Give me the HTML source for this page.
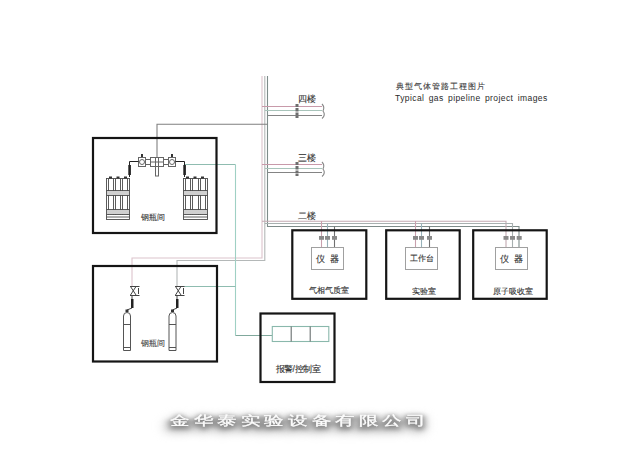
<!DOCTYPE html>
<html><head><meta charset="utf-8">
<style>
html,body{margin:0;padding:0;background:#fff;}
body{width:640px;height:458px;overflow:hidden;position:relative;font-family:"Liberation Sans",sans-serif;}
svg{position:absolute;left:0;top:0;}
.t{position:absolute;white-space:nowrap;line-height:1;color:#333;}
.m{-webkit-text-stroke:0.12px #333;}
</style></head><body>
<svg width="640" height="458" viewBox="0 0 640 458">
<g fill="none" stroke-width="1.1">
  <!-- main verticals -->
  <path d="M262 76 V258 H132 V286" stroke="#dcc4cc"/>
  <path d="M264.8 76 V260.5 H177 V286" stroke="#b4b8b8"/>
  <path d="M267.5 76 V226.5 H519 V247" stroke="#7e8c8a"/>
  <!-- 二楼 other lines -->
  <path d="M262 221.3 H506 V247" stroke="#c4aab2"/>
  <path d="M264.8 223.5 H512.5 V247" stroke="#a8b0b0"/>
  <!-- room drops -->
  <path d="M321.5 221 V247" stroke="#c9a0ae"/>
  <path d="M327.5 223.5 V247" stroke="#98b2ba"/>
  <path d="M334.5 226.5 V247" stroke="#707070"/>
  <path d="M415.5 221 V247" stroke="#c9a0ae"/>
  <path d="M421.5 223.5 V247" stroke="#98b2ba"/>
  <path d="M429.5 226.5 V247" stroke="#707070"/>
  <!-- 四楼 -->
  <path d="M262 106.5 H322" stroke="#c89aaa"/>
  <path d="M265 110.5 H322" stroke="#a8c4ba"/>
  <path d="M267.5 115.5 H322" stroke="#848484"/>
  <!-- 三楼 -->
  <path d="M262 164.5 H322" stroke="#c89aaa"/>
  <path d="M265 168.5 H322" stroke="#a8c4ba"/>
  <path d="M267.5 172.5 H322" stroke="#848484"/>
  <!-- break symbols -->
  <path d="M322 104 Q325 107 323 111 Q326 115 322 118.5" stroke="#888"/>
  <path d="M322 162 Q325 165 323 169 Q326 173 322 176.5" stroke="#888"/>
  <!-- gray line from manifold -->
  <path d="M157 157 V124.3 H267.5" stroke="#808080"/>
  <!-- green lines -->
  <path d="M185 164.5 H235.5" stroke="#8fbcb0"/>
  <path d="M235.5 164.5 V335.5" stroke="#9fd0c4"/>
  <path d="M235.5 335.5 H272" stroke="#80a89c"/>
  <path d="M183 286.5 H235.5" stroke="#8fbcb0"/>
</g>
<!-- floor valve blocks -->
<g fill="#6e6e6e">
  <rect x="295.5" y="104" width="3" height="3"/><rect x="295.5" y="108" width="3" height="3.5"/><rect x="295.5" y="112.5" width="3" height="2.5"/><rect x="295.5" y="115.5" width="3" height="2.5"/>
  <rect x="295.5" y="162" width="3" height="3"/><rect x="295.5" y="166" width="3" height="3.5"/><rect x="295.5" y="170.5" width="3" height="2.5"/><rect x="295.5" y="173.5" width="3" height="2.5"/>
</g>
<!-- boxes -->
<g fill="none" stroke="#151515" stroke-width="2.2">
  <rect x="93" y="138" width="123.5" height="95"/>
  <rect x="93" y="266" width="124" height="95.5"/>
  <rect x="292.3" y="230.3" width="74" height="68.5"/>
  <rect x="386.2" y="230.3" width="73.5" height="68.5"/>
  <rect x="473.2" y="230.3" width="73.5" height="68.5"/>
  <rect x="260.5" y="313.5" width="74" height="68.5"/>
</g>
<g fill="none" stroke="#a0a0a0" stroke-width="1">
  <rect x="311.5" y="247.5" width="32" height="22"/>
  <rect x="405.5" y="247.5" width="32" height="22"/>
  <rect x="495.5" y="247.5" width="32" height="22"/>
</g>
<!-- alarm panel -->
<g fill="none" stroke-width="1.1">
  <rect x="272.3" y="326.5" width="56.5" height="15" stroke="#8ab8ac"/>
  <path d="M291.2 326.5 V341.5 M310.2 326.5 V341.5" stroke="#6a7070"/>
</g>
<!-- room valves -->
<g fill="#8a8a8a">
  <rect x="319" y="236" width="5" height="3.8"/><rect x="325" y="236" width="5" height="3.8"/><rect x="332" y="236" width="5" height="3.8"/>
  <rect x="413" y="236" width="5" height="3.8"/><rect x="419" y="236" width="5" height="3.8"/><rect x="427" y="236" width="5" height="3.8"/>
  <rect x="503.5" y="236" width="5" height="3.8"/><rect x="510" y="236" width="5" height="3.8"/><rect x="516.7" y="236" width="5" height="3.8"/>
</g>
<!-- box1 manifold -->
<g fill="none" stroke="#666" stroke-width="1">
  <rect x="138.5" y="157.5" width="7" height="9"/>
  <circle cx="142" cy="162" r="2.5"/>
  <rect x="145.5" y="159.5" width="5" height="5"/>
  <rect x="150.5" y="157.5" width="13" height="9"/>
  <path d="M150.5 162 H163.5"/>
  <rect x="163.5" y="159.5" width="5" height="5"/>
  <rect x="168.5" y="157.5" width="7" height="9"/>
  <circle cx="172" cy="162" r="2.5"/>
  <rect x="155.5" y="157.5" width="3" height="18.5"/>
</g>
<g fill="#333">
  <rect x="141" y="154" width="2" height="3"/>
  <rect x="171" y="154" width="2" height="3"/>
</g>
<g fill="none" stroke="#222" stroke-width="1">
  <path d="M138.5 161.5 H129.5 V177"/>
  <path d="M175.5 161.5 H184.5 V177"/>
</g>
<g fill="#222">
  <rect x="128.3" y="165" width="2.6" height="10"/>
  <rect x="183.3" y="165" width="2.6" height="10"/>
</g>
<!-- racks -->
<g fill="none" stroke="#4a4a4a" stroke-width="0.9">
  <rect x="106.5" y="178.5" width="23" height="41"/>
  <path d="M108.5 178.5 V214.5 M113.5 178.5 V214.5 M115.5 178.5 V214.5 M120.5 178.5 V214.5 M122.5 178.5 V214.5 M127.5 178.5 V214.5 M106.5 190.5 H129.5 M106.5 195.5 H129.5 M106.5 209.5 H129.5 M106.5 214.5 H129.5 M106.5 217 H129.5"/>
  <rect x="183.5" y="178.5" width="24" height="41"/>
  <path d="M185.5 178.5 V214.5 M190.5 178.5 V214.5 M192.5 178.5 V214.5 M198.5 178.5 V214.5 M200.5 178.5 V214.5 M205.5 178.5 V214.5 M183.5 190.5 H207.5 M183.5 195.5 H207.5 M183.5 209.5 H207.5 M183.5 214.5 H207.5 M183.5 217 H207.5"/>
</g>
<g fill="#d0d0d0">
  <rect x="107" y="191" width="22" height="4"/><rect x="184" y="191" width="23" height="4"/>
  <rect x="107" y="210" width="22" height="4"/><rect x="184" y="210" width="23" height="4"/>
</g>
<g fill="#333">
  <rect x="109" y="176.5" width="3" height="2"/><rect x="116.5" y="176.5" width="3" height="2"/><rect x="124" y="176.5" width="3" height="2"/>
  <rect x="186" y="176.5" width="3" height="2"/><rect x="193.5" y="176.5" width="3" height="2"/><rect x="201" y="176.5" width="3" height="2"/>
</g>
<!-- box2 cylinders -->
<g fill="none" stroke="#444" stroke-width="1">
  <path d="M130.5 286.5 L136 295 M130.5 295 L136 286.5 M130 286.5 H139.5 M130 295.5 H139.5 M138.5 288 V294"/>
  <path d="M175.5 286.5 L181 295 M175.5 295 L181 286.5 M175 286.5 H184.5 M175 295.5 H184.5 M183.5 288 V294"/>
  <path d="M132 295.5 V299 M127 312 V310 L132 308"/>
  <path d="M177 295.5 V299 M172.5 312 V310 L177 308"/>
</g>
<g fill="none" stroke="#555" stroke-width="1">
  <path d="M123.5 350.5 V316 Q123.5 312.5 127 312.5 Q130.5 312.5 130.5 316 V350.5 Z M123.5 324.5 H130.5 M123.5 347.5 H130.5"/>
  <path d="M169 350.5 V316 Q169 312.5 172.5 312.5 Q176 312.5 176 316 V350.5 Z M169 324.5 H176 M169 347.5 H176"/>
</g>
<g fill="#333">
  <rect x="125.5" y="309.5" width="3" height="2.5"/><rect x="171" y="309.5" width="3" height="2.5"/>
</g>
<g fill="#222">
  <rect x="131" y="299" width="2.5" height="9"/>
  <rect x="176" y="299" width="2.5" height="9"/>
</g>
</svg>

<div class="t" style="left:396px;top:82.5px;font-size:8px;letter-spacing:1px;color:#3a3a3a;-webkit-text-stroke:0.1px #444;">典型气体管路工程图片</div>
<div class="t" style="left:395px;top:94px;font-size:8.5px;letter-spacing:0.41px;word-spacing:1.6px;color:#2a2a2a;">Typical gas pipeline project images</div>
<div class="t m" style="left:297.8px;top:95.2px;font-size:8.5px;letter-spacing:0px;color:#333;">四楼</div>
<div class="t m" style="left:297.8px;top:153.8px;font-size:8.5px;color:#333;">三楼</div>
<div class="t m" style="left:297.5px;top:212px;font-size:9px;letter-spacing:0px;color:#333;">二楼</div>
<div class="t m" style="left:141px;top:214px;font-size:8px;color:#444;">钢瓶间</div>
<div class="t m" style="left:140.5px;top:340px;font-size:8px;color:#555;">钢瓶间</div>
<div class="t m" style="left:315.5px;top:254.5px;font-size:9px;color:#333;">仪&nbsp;&nbsp;器</div>
<div class="t m" style="left:409.5px;top:255px;font-size:8px;color:#333;">工作台</div>
<div class="t m" style="left:500px;top:254.5px;font-size:9px;color:#333;">仪&nbsp;&nbsp;器</div>
<div class="t m" style="left:309px;top:286.5px;font-size:8px;color:#333;">气相气质室</div>
<div class="t m" style="left:412px;top:288px;font-size:8px;color:#333;">实验室</div>
<div class="t m" style="left:493px;top:288px;font-size:8px;color:#333;">原子吸收室</div>
<div class="t m" style="left:275.5px;top:365px;font-size:8.5px;letter-spacing:-0.45px;color:#333;">报警/控制室</div>
<div class="t" style="left:169px;top:418px;font-size:13px;letter-spacing:2.73px;color:#c6c6c6;-webkit-text-stroke:5px #c6c6c6;transform:scaleX(1.5);transform-origin:0 0;filter:blur(4px);">金华泰实验设备有限公司</div>
<div class="t" style="left:169.5px;top:415.5px;font-size:13px;letter-spacing:2.73px;color:#8c8c8c;-webkit-text-stroke:2.6px #8c8c8c;transform:scaleX(1.5);transform-origin:0 0;filter:blur(2.2px);">金华泰实验设备有限公司</div>
<div class="t" style="left:170px;top:414px;font-size:13px;letter-spacing:2.73px;color:#fcfcfc;-webkit-text-stroke:0.3px #fff;transform:scaleX(1.5);transform-origin:0 0;">金华泰实验设备有限公司</div>
</body></html>
